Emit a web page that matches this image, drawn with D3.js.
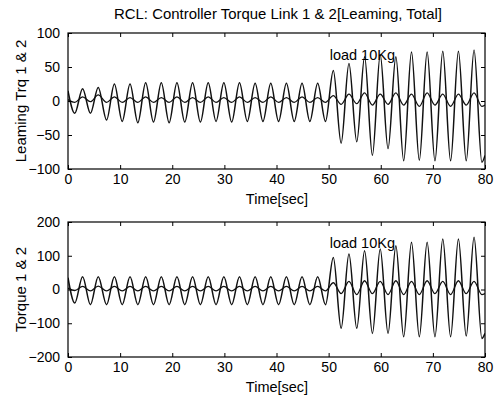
<!DOCTYPE html>
<html>
<head>
<meta charset="utf-8">
<script src="https://cdnjs.cloudflare.com/ajax/libs/d3/7.8.5/d3.min.js"></script>
<style>
  body { margin: 0; background: #fff; }
  svg { display: block; font-family: "Liberation Sans", Arial, sans-serif; }
</style>
</head>
<body>
<svg id="chart" width="503" height="402"></svg>
<script>
// times of the turning points (sec), shared by all curves
var times = [0, 1.3, 2.8, 4.3, 5.8, 7.4, 8.9, 10.4, 11.9, 13.4, 14.9, 16.4, 17.9, 19.4,
  20.9, 22.4, 23.9, 25.4, 26.9, 28.4, 29.9, 31.4, 32.9, 34.4, 35.9, 37.4, 38.9, 40.4,
  41.9, 43.4, 44.9, 46.4, 47.9, 49.4, 50.9, 52.4, 53.9, 55.4, 56.9, 58.4, 59.9, 61.4,
  62.9, 64.4, 65.9, 67.4, 68.9, 70.4, 71.9, 73.4, 74.9, 76.4, 77.9, 79.4, 80];

// top panel: learning torque (large) and the small companion trace
var learnMain = [15, -18, 18, -18, 20, -28, 25, -30, 25, -32, 27, -31, 27, -32,
  27, -31, 27, -31, 27, -30, 27, -31, 27, -30, 26, -30, 26, -30,
  26, -30, 26, -30, 26, -30, 45, -62, 55, -60, 65, -80, 68, -70,
  65, -88, 72, -87, 72, -88, 73, -88, 73, -88, 75, -90, -80];
var learnSmall = [2, -2, 6, -1, 9, -2, 6, -2, 5, -2, 6, -2, 5, -2,
  6, -2, 5, -2, 6, -2, 5, -2, 6, -2, 5, -2, 6, -2,
  5, -2, 6, -2, 5, -2, 8, -5, 10, -4, 12, -6, 10, -5,
  12, -6, 10, -8, 12, -6, 10, -8, 10, -6, 12, -8, -6];

// bottom panel: total torque (large) and small trace
var torqueMain = [35, -40, 38, -45, 38, -45, 38, -45, 38, -45, 38, -45, 38, -45,
  38, -45, 38, -45, 38, -45, 38, -45, 38, -45, 38, -45, 38, -45,
  38, -45, 38, -45, 38, -45, 95, -115, 105, -115, 115, -130, 120, -130,
  130, -140, 140, -140, 140, -140, 150, -140, 150, -138, 155, -145, -130];
var torqueSmall = [4, -3, 9, -4, 10, -4, 9, -4, 9, -4, 9, -4, 9, -4,
  9, -4, 9, -4, 9, -4, 9, -4, 9, -4, 9, -4, 9, -4,
  9, -4, 9, -4, 9, -4, 20, -12, 24, -15, 26, -12, 24, -15,
  26, -15, 24, -15, 26, -12, 24, -15, 26, -12, 24, -15, -12];

var xTicks = [0, 10, 20, 30, 40, 50, 60, 70, 80];
var topYTicks = [-100, -50, 0, 50, 100];
var botYTicks = [-200, -100, 0, 100, 200];

var svg = d3.select("#chart");
var left = 68, right = 485;

svg.append("text")
  .attr("x", 278).attr("y", 19)
  .attr("text-anchor", "middle").attr("font-size", 15)
  .attr("textLength", 328).attr("lengthAdjust", "spacingAndGlyphs")
  .text("RCL: Controller Torque Link 1 & 2[Leaming, Total]");

function panel(top, bottom, yDomain, yTicks, ylabel, series, noteY) {
  var x = d3.scaleLinear().domain([0, 80]).range([left, right]);
  var y = d3.scaleLinear().domain(yDomain).range([bottom, top]);
  var g = svg.append("g");

  var clip = "clip" + top;
  g.append("clipPath").attr("id", clip)
    .append("rect").attr("x", left).attr("y", top)
    .attr("width", right - left).attr("height", bottom - top);

  var line = d3.line()
    .x(function(d, i) { return x(times[i]); })
    .y(function(d) { return y(d); })
    .curve(d3.curveMonotoneX);

  series.forEach(function(s, k) {
    g.append("path").datum(s)
      .attr("clip-path", "url(#" + clip + ")")
      .attr("fill", "none").attr("stroke", "#111")
      .attr("stroke-width", k == 0 ? 1.5 : 1.3).attr("d", line);
  });

  // box with inward ticks on all sides, MATLAB style
  g.append("rect").attr("x", left).attr("y", top)
    .attr("width", right - left).attr("height", bottom - top)
    .attr("fill", "none").attr("stroke", "#000").attr("stroke-width", 1.2);

  var xb = g.append("g").attr("transform", "translate(0," + bottom + ")")
    .call(d3.axisBottom(x).tickValues(xTicks).tickSizeInner(-4).tickSizeOuter(0).tickPadding(5));
  var xt = g.append("g").attr("transform", "translate(0," + top + ")")
    .call(d3.axisTop(x).tickValues(xTicks).tickSizeInner(-4).tickSizeOuter(0).tickFormat(""));
  var yl = g.append("g").attr("transform", "translate(" + left + ",0)")
    .call(d3.axisLeft(y).tickValues(yTicks).tickSizeInner(-4).tickSizeOuter(0).tickPadding(8));
  var yr = g.append("g").attr("transform", "translate(" + right + ",0)")
    .call(d3.axisRight(y).tickValues(yTicks).tickSizeInner(-4).tickSizeOuter(0).tickFormat(""));
  [xb, xt, yl, yr].forEach(function(a) {
    a.select(".domain").remove();
    a.selectAll("text").attr("font-size", 14).attr("fill", "#000")
      .attr("font-family", "Liberation Sans, Arial, sans-serif");
  });

  g.append("text")
    .attr("x", 277).attr("y", bottom + 35)
    .attr("text-anchor", "middle").attr("font-size", 14.5)
    .text("Time[sec]");

  g.append("text")
    .attr("transform", "translate(26," + (top + bottom) / 2 + ") rotate(-90)")
    .attr("text-anchor", "middle").attr("font-size", 15)
    .text(ylabel);

  g.append("text")
    .attr("x", x(50.2)).attr("y", y(noteY))
    .attr("font-size", 14.5)
    .text("load 10Kg");
}

panel(33, 169, [-100, 100], topYTicks, "Leaming Trq 1 & 2", [learnMain, learnSmall], 61);
panel(222, 357, [-200, 200], botYTicks, "Torque 1 & 2", [torqueMain, torqueSmall], 122);
</script>
</body>
</html>
